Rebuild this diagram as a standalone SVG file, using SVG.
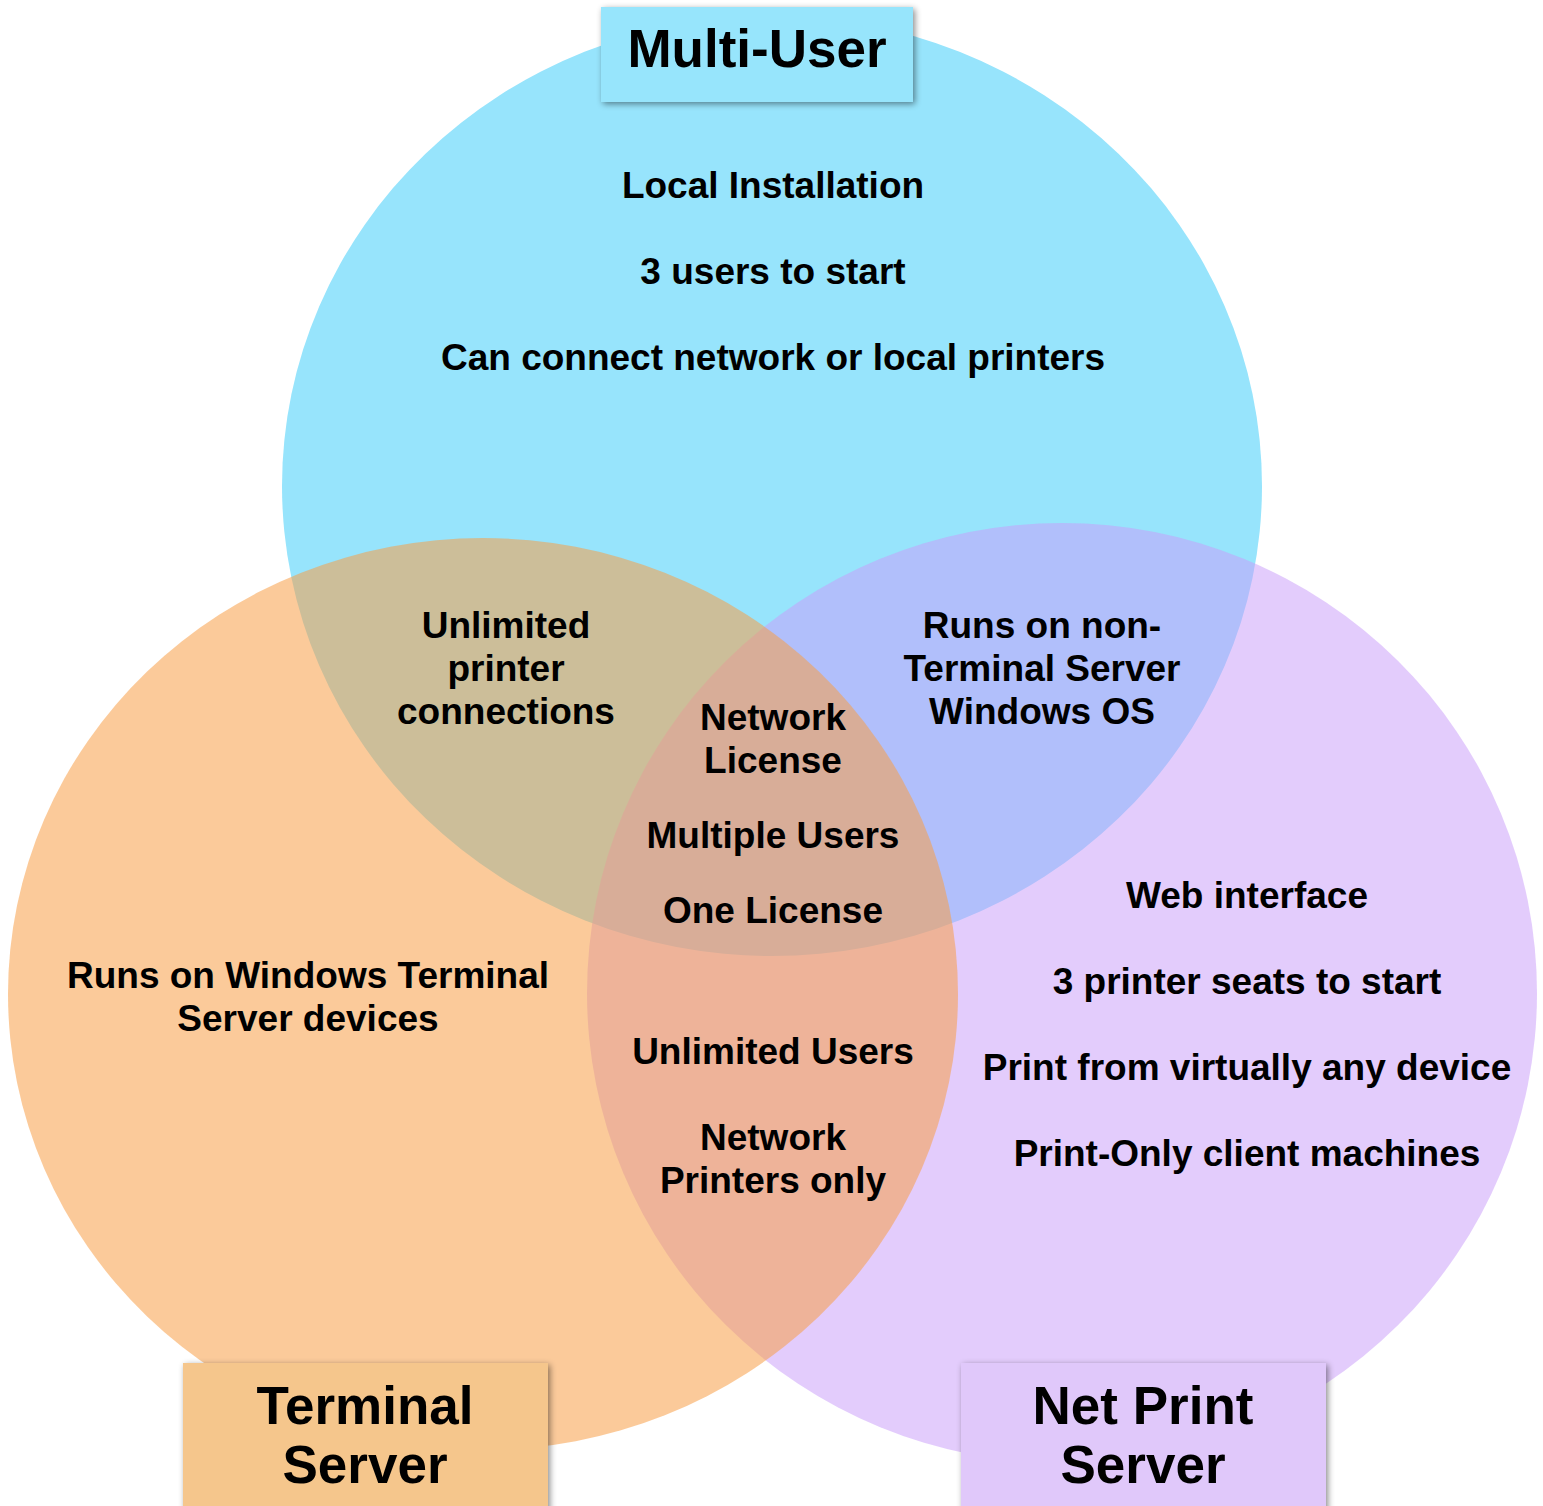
<svg xmlns="http://www.w3.org/2000/svg" width="1543" height="1506" viewBox="0 0 1543 1506">
  <defs>
    <filter id="shadow" x="-10%" y="-20%" width="120%" height="140%">
      <feDropShadow dx="2" dy="2" stdDeviation="3" flood-color="#000" flood-opacity="0.45"/>
    </filter>
  </defs>
  <style>
    text { font-family: "Liberation Sans", Arial, sans-serif; font-weight: bold; fill: #000; text-anchor: middle; }
    .body { font-size: 37px; }
    .title { font-size: 53px; }
  </style>
  <rect width="1543" height="1506" fill="#fff"/>
  <g id="circles">
    <ellipse id="multi-user-circle" cx="772" cy="486" rx="490" ry="470" fill="#97E4FC"/>
    <ellipse id="net-print-circle" cx="1062" cy="993" rx="475" ry="470" fill="#C99DF9" fill-opacity="0.52"/>
    <ellipse id="terminal-circle" cx="483" cy="994" rx="475" ry="456" fill="#F7A049" fill-opacity="0.553"/>
  </g>
  <g id="connectors"></g>
  <g id="multi-user-only">
    <text class="body" x="773" y="198">Local Installation</text>
    <text class="body" x="773" y="284">3 users to start</text>
    <text class="body" x="773" y="370">Can connect network or local printers</text>
  </g>
  <g id="multi-terminal">
    <text class="body" x="506" y="638">Unlimited</text>
    <text class="body" x="506" y="681">printer</text>
    <text class="body" x="506" y="724">connections</text>
  </g>
  <g id="multi-netprint">
    <text class="body" x="1042" y="638">Runs on non-</text>
    <text class="body" x="1042" y="681">Terminal Server</text>
    <text class="body" x="1042" y="724">Windows OS</text>
  </g>
  <g id="all-three">
    <text class="body" x="773" y="730">Network</text>
    <text class="body" x="773" y="773">License</text>
    <text class="body" x="773" y="848">Multiple Users</text>
    <text class="body" x="773" y="923">One License</text>
  </g>
  <g id="terminal-only">
    <text class="body" x="308" y="988">Runs on Windows Terminal</text>
    <text class="body" x="308" y="1031">Server devices</text>
  </g>
  <g id="terminal-netprint">
    <text class="body" x="773" y="1064">Unlimited Users</text>
    <text class="body" x="773" y="1150">Network</text>
    <text class="body" x="773" y="1193">Printers only</text>
  </g>
  <g id="netprint-only">
    <text class="body" x="1247" y="908">Web interface</text>
    <text class="body" x="1247" y="994">3 printer seats to start</text>
    <text class="body" x="1247" y="1080">Print from virtually any device</text>
    <text class="body" x="1247" y="1166">Print-Only client machines</text>
  </g>
  <g id="label-multi-user">
    <rect x="601" y="7" width="312" height="95" fill="#97E5FC" filter="url(#shadow)"/>
    <text class="title" x="757" y="67">Multi-User</text>
  </g>
  <g id="label-terminal-server">
    <rect x="183" y="1363" width="365" height="170" fill="#F5C68C" filter="url(#shadow)"/>
    <text class="title" x="365" y="1424">Terminal</text>
    <text class="title" x="365" y="1483">Server</text>
  </g>
  <g id="label-net-print-server">
    <rect x="961" y="1363" width="365" height="170" fill="#E0C8FA" filter="url(#shadow)"/>
    <text class="title" x="1143" y="1424">Net Print</text>
    <text class="title" x="1143" y="1483">Server</text>
  </g>
</svg>
